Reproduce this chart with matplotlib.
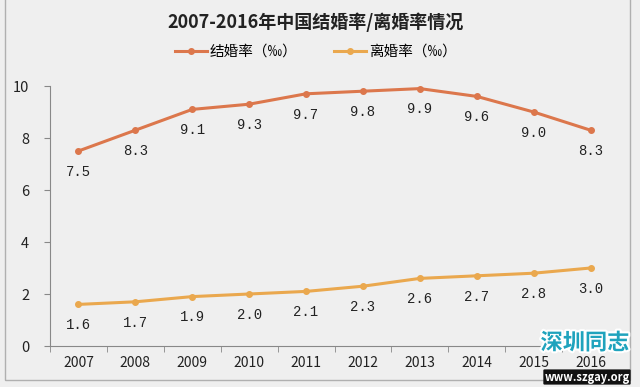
import matplotlib.pyplot as plt
import matplotlib.patheffects as pe
from matplotlib.patches import Rectangle
import numpy as np

years = ['2007', '2008', '2009', '2010', '2011', '2012', '2013', '2014', '2015', '2016']
marriage = [7.5, 8.3, 9.1, 9.3, 9.7, 9.8, 9.9, 9.6, 9.0, 8.3]
divorce = [1.6, 1.7, 1.9, 2.0, 2.1, 2.3, 2.6, 2.7, 2.8, 3.0]

plt.rcParams['font.family'] = ['Noto Sans CJK SC', 'DejaVu Sans']

bg = '#efefef'
c_mar = '#dc774c'
c_div = '#eaa84e'

fig = plt.figure(figsize=(6.4, 3.87), dpi=100, facecolor=bg)
fig.patches.append(Rectangle((5/640, 7/387), 625/640, 390/387, transform=fig.transFigure,
                             fill=False, edgecolor='#b0b0b0', lw=1))
ax = fig.add_axes([50/640, 1-346/387, 569/640, 260/387])
ax.set_facecolor(bg)

x = np.arange(len(years))
ax.plot(x, marriage, color=c_mar, lw=2.2, marker='o', ms=4, label='结婚率（‰）')
ax.plot(x, divorce, color=c_div, lw=2.2, marker='o', ms=4, label='离婚率（‰）')

for i in range(len(years)):
    ax.annotate('%.1f' % marriage[i], (x[i], marriage[i]), xytext=(0, -15), textcoords='offset points',
                ha='center', va='center', fontsize=10, family='Liberation Mono', color='#222222')
    ax.annotate('%.1f' % divorce[i], (x[i], divorce[i]), xytext=(0, -15), textcoords='offset points',
                ha='center', va='center', fontsize=10, family='Liberation Mono', color='#222222')

ax.set_xlim(-0.5, len(years) - 0.5)
ax.set_ylim(0, 10)
ax.set_yticks([0, 2, 4, 6, 8, 10])
ax.set_xticks(x)
ax.set_xticklabels(years)
ax.set_xticks(np.arange(-0.5, len(years)), minor=True)
ax.tick_params(axis='x', which='major', length=0, pad=7, labelsize=10, colors='#222222')
ax.tick_params(axis='x', which='minor', length=4, direction='out', color='#888888')
ax.tick_params(axis='y', length=4, color='#888888', labelsize=10.5, pad=11, labelcolor='#222222')
for s in ['top', 'right']:
    ax.spines[s].set_visible(False)
for s in ['left', 'bottom']:
    ax.spines[s].set_color('#888888')

fig.text(316/640, 1-22/387, '2007-2016年中国结婚率/离婚率情况', ha='center', va='center',
         fontsize=13, fontweight='bold', color='#222222')
fig.legend(loc='center', bbox_to_anchor=(316/640, 1-52/387), ncol=2, frameon=False,
           fontsize=10.5, handlelength=2.2, columnspacing=2.5, handletextpad=0.2)

fig.text(585/640, 1-343/387, '深圳同志', ha='center', va='center', fontsize=16, fontweight='bold',
         color='#1fa3bd', path_effects=[pe.withStroke(linewidth=3, foreground='white')])
fig.text(587/640, 1-377/387, 'www.szgay.org', ha='center', va='center', fontsize=8, fontweight='bold',
         color='white', bbox=dict(boxstyle='round,pad=0.1', fc='#111111', ec='none'))

fig.savefig('out.png', dpi=100, facecolor=bg)
